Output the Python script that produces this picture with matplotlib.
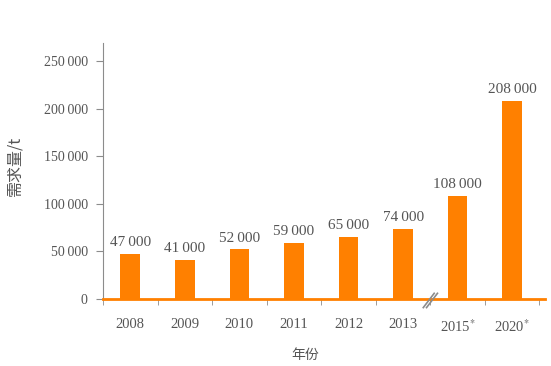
import matplotlib.pyplot as plt
import matplotlib.ticker as mticker

years = ['2008', '2009', '2010', '2011', '2012', '2013', '2015$^{*}$', '2020$^{*}$']
demand = [47000, 41000, 52000, 59000, 65000, 74000, 108000, 208000]
yticks = [0, 50000, 100000, 150000, 200000, 250000]

grey = '#8c8c8c'
text_grey = '#555555'
orange = '#ff8000'

plt.rcParams['font.family'] = ['Liberation Serif', 'DejaVu Serif']
plt.rcParams['mathtext.fontset'] = 'stix'


def fmt(v):
    s = f'{int(v):,}'
    return s.replace(',', '\u2009')


fig = plt.figure(figsize=(5.51, 3.66), dpi=100)
ax = fig.add_axes([0.187, 0.183, 0.802, 0.7])

x = list(range(len(years)))
ax.bar(x, demand, width=0.36, color=orange, zorder=2)
for xi, v in zip(x, demand):
    ax.text(xi, v + 5000, fmt(v), ha='center', va='bottom',
            fontsize=11, color=text_grey)

ax.set_xlim(-0.5, 7.6)
ax.set_ylim(0, 269000)

ax.set_yticks(yticks)
ax.set_yticklabels([fmt(v) for v in yticks], fontsize=10, color=text_grey)
ax.set_xticks(x)
ax.set_xticklabels(years, fontsize=10.5, color=text_grey)
ax.xaxis.set_minor_locator(mticker.FixedLocator([i + 0.5 for i in range(-1, 8)]))
ax.tick_params(axis='x', which='major', length=0, pad=14)
ax.tick_params(axis='x', which='minor', length=4, color=grey, direction='out')
ax.tick_params(axis='y', length=5, color=grey, pad=6)

for s in ['top', 'right']:
    ax.spines[s].set_visible(False)
ax.spines['left'].set_color(grey)
ax.spines['bottom'].set_color(orange)
ax.spines['bottom'].set_linewidth(2)
ax.spines['bottom'].set_zorder(3)

# axis break mark between 2013 and 2015
for dx in (-0.03, 0.03):
    ax.plot([5.4 + dx, 5.6 + dx], [-9000, 6000], color=grey, lw=1.2,
            clip_on=False, zorder=4)

ax.set_ylabel('需求量/t', family=['Noto Sans CJK SC', 'DejaVu Sans'],
              fontsize=11.5, color=text_grey)
ax.yaxis.set_label_coords(-0.181, 0.52)
ax.set_xlabel('年份', family=['Noto Sans CJK SC', 'DejaVu Sans'],
              fontsize=10, color=text_grey)
ax.xaxis.set_label_coords(0.457, -0.19)

fig.savefig('out.png', dpi=100)
